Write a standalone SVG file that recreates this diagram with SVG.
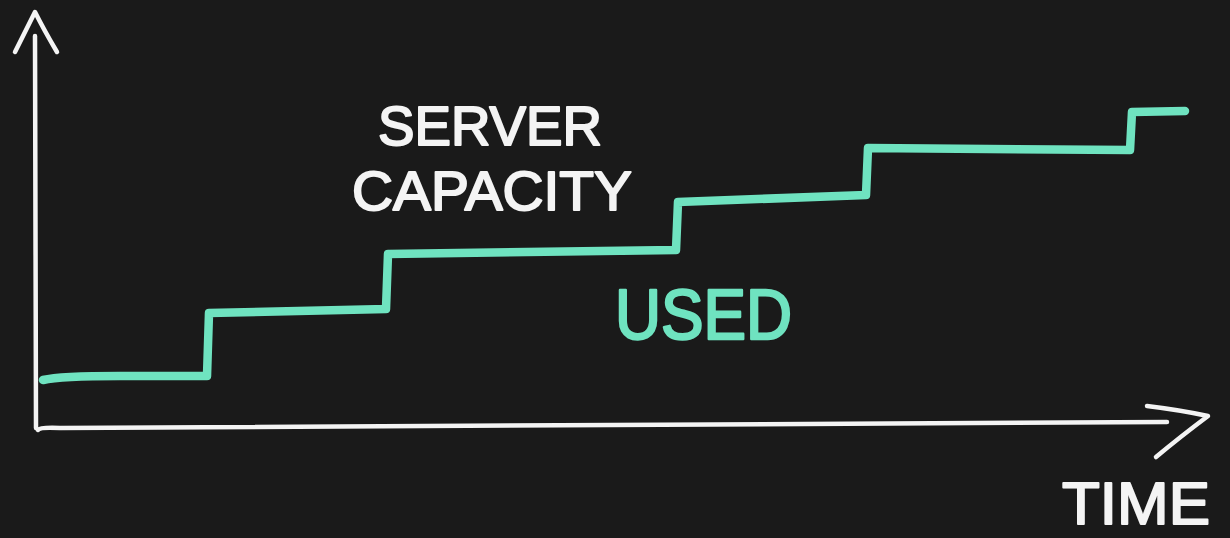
<svg xmlns="http://www.w3.org/2000/svg" width="1230" height="538" viewBox="0 0 1230 538">
  <style>
    .axis { fill: none; stroke: #f4f4f4; stroke-width: 4.5; stroke-linecap: round; stroke-linejoin: round; }
    .used { fill: none; stroke: #6fe3c0; stroke-width: 8.5; stroke-linecap: round; stroke-linejoin: round; }
    .lbl { font-family: "Liberation Sans", Arial, sans-serif; stroke-linejoin: round; stroke-linecap: round; }
    .white { fill: #f4f4f4; stroke: #f4f4f4; stroke-width: 2; }
    .green { fill: #6fe3c0; stroke: #6fe3c0; stroke-width: 2.5; }
  </style>
  <rect width="1230" height="538" fill="#1a1a1a"/>
  <g id="connectors">
    <g id="y-axis">
      <path class="axis" d="M36,428 L35,36"/>
      <path class="axis" d="M15,52 Q26,30 35,12 Q44,30 57,52"/>
    </g>
    <g id="x-axis">
      <path class="axis" d="M38,430 Q40,427 60,428 L1167,422"/>
      <path class="axis" d="M1147,406 Q1180,410 1208,416 Q1180,437 1156,457"/>
    </g>
    <g id="used-line">
      <path class="used" d="M43,380 Q60,376 120,376 L207,376 L209,313 L386,309 L388,254 L676,250 L678,202 L866,195 L868,148 L1130,150 L1132,112 L1185,111"/>
    </g>
  </g>
  <g id="label-server-capacity">
    <text class="lbl white" x="378" y="145" font-size="56" textLength="224" lengthAdjust="spacingAndGlyphs">SERVER</text>
    <text class="lbl white" x="352" y="210" font-size="56" textLength="280" lengthAdjust="spacingAndGlyphs">CAPACITY</text>
  </g>
  <g id="label-used">
    <text class="lbl green" x="615" y="339" font-size="70" textLength="177" lengthAdjust="spacingAndGlyphs">USED</text>
  </g>
  <g id="label-time">
    <text class="lbl white" x="1062" y="524" font-size="60" textLength="148" lengthAdjust="spacingAndGlyphs">TIME</text>
  </g>
</svg>
